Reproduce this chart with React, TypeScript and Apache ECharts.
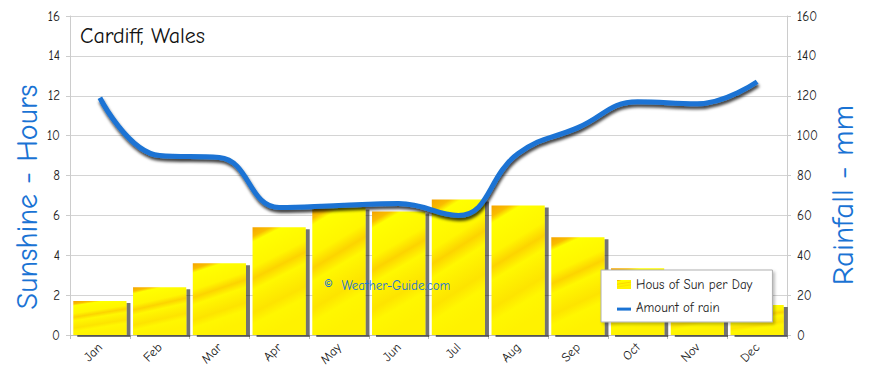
import React, { useEffect, useRef } from "react";
import * as echarts from "echarts";

const months = ["Jan", "Feb", "Mar", "Apr", "May", "Jun", "Jul", "Aug", "Sep", "Oct", "Nov", "Dec"];
const sunHours = [1.7, 2.4, 3.6, 5.4, 6.4, 6.2, 6.8, 6.5, 4.9, 3.35, 2.2, 1.5];
const rainfall = [119, 90, 89, 64, 65, 66, 60, 91, 104, 117, 116, 127];
const sunTicks = { min: 0, max: 16, interval: 2 };
const rainTicks = { min: 0, max: 160, interval: 20 };

const FONT = '"Comic Sans MS", "Comic Neue", Lato, "Open Sans", sans-serif';
const BLUE = "#1a73d4";

export default function App() {
  const ref = useRef<HTMLDivElement>(null);
  useEffect(() => {
    if (!ref.current) return;
    const chart = echarts.init(ref.current, null, { renderer: "svg" });
    const barGrad = new echarts.graphic.LinearGradient(0, 0, 0.25, 1, [
      { offset: 0, color: "#f5a300" },
      { offset: 0.08, color: "#f9bd00" },
      { offset: 0.13, color: "#ffff00" },
      { offset: 0.35, color: "#fff600" },
      { offset: 0.45, color: "#fcd400" },
      { offset: 0.55, color: "#fff800" },
      { offset: 0.75, color: "#fde400" },
      { offset: 0.85, color: "#fff700" },
      { offset: 1, color: "#fff200" },
    ]);
    chart.setOption({
      animation: false,
      backgroundColor: "#ffffff",
      textStyle: { fontFamily: FONT },
      grid: { left: 70, right: 83, top: 16, bottom: 39 },
      legend: {
        orient: "vertical",
        left: 601,
        top: 270,
        padding: [8, 20, 8, 16],
        itemGap: 10,
        itemWidth: 14,
        itemHeight: 9,
        backgroundColor: "#ffffff",
        borderColor: "#b0b0b0",
        borderWidth: 1,
        shadowColor: "rgba(0,0,0,0.25)",
        shadowBlur: 3,
        shadowOffsetX: 2,
        shadowOffsetY: 2,
        textStyle: { fontFamily: FONT, fontSize: 13, color: "#222" },
        data: [
          { name: "Hous of Sun per Day", icon: "rect" },
          { name: "Amount of rain", icon: "path://M0,0L0,0M0,3.2L14,3.2L14,6.2L0,6.2Z" },
        ],
      },
      xAxis: {
        type: "category",
        data: months,
        axisLine: { lineStyle: { color: "#bdbdbd", width: 1 } },
        axisTick: { show: true, length: 4, lineStyle: { color: "#bdbdbd" } },
        axisLabel: { rotate: 45, fontSize: 13, color: "#222", margin: 10, fontFamily: FONT },
      },
      yAxis: [
        {
          type: "value",
          min: sunTicks.min,
          max: sunTicks.max,
          interval: sunTicks.interval,
          axisLine: { show: true, lineStyle: { color: "#cccccc" } },
          axisTick: { show: true, length: 4, lineStyle: { color: "#cccccc" } },
          axisLabel: { fontSize: 13, color: "#222", margin: 10, fontFamily: FONT },
          splitLine: { lineStyle: { color: "#d4d4d4", width: 1 } },
        },
        {
          type: "value",
          min: rainTicks.min,
          max: rainTicks.max,
          interval: rainTicks.interval,
          axisLine: { show: true, lineStyle: { color: "#cccccc" } },
          axisTick: { show: true, length: 4, lineStyle: { color: "#cccccc" } },
          axisLabel: { fontSize: 13, color: "#222", margin: 10, fontFamily: FONT },
          splitLine: { show: false },
        },
      ],
      series: [
        {
          name: "Hous of Sun per Day",
          type: "bar",
          data: sunHours,
          yAxisIndex: 0,
          barCategoryGap: "11%",
          itemStyle: {
            color: barGrad,
            shadowColor: "rgba(0,0,0,0.55)",
            shadowBlur: 1,
            shadowOffsetX: 4,
            shadowOffsetY: 2,
          },
        },
        {
          name: "Amount of rain",
          type: "line",
          data: rainfall,
          yAxisIndex: 1,
          smooth: 0.45,
          symbol: "none",
          z: 5,
          itemStyle: { color: BLUE },
          lineStyle: {
            color: BLUE,
            width: 5,
            shadowColor: "rgba(0,0,0,0.75)",
            shadowBlur: 3,
            shadowOffsetX: 1,
            shadowOffsetY: 3,
          },
        },
      ],
      graphic: [
        {
          type: "text",
          left: 80,
          top: 25,
          style: { text: "Cardiff, Wales", fontSize: 22, fill: "#111", fontFamily: FONT },
          z: 10,
        },
        {
          type: "text",
          x: 324,
          y: 285,
          style: {
            text: "{c|©}  Weather-Guide.com",
            fontSize: 13,
            fill: "#1a73d4",
            fontFamily: FONT,
            textVerticalAlign: "middle",
            rich: { c: { fontSize: 16, fill: "#1a73d4", fontFamily: FONT } },
          },
          z: 10,
        },
        {
          type: "text",
          x: 27,
          y: 197,
          rotation: Math.PI / 2,
          style: {
            text: "Sunshine - Hours",
            fontSize: 30,
            fill: BLUE,
            fontFamily: FONT,
            textAlign: "center",
            textVerticalAlign: "middle",
          },
        },
        {
          type: "text",
          x: 843,
          y: 195,
          rotation: Math.PI / 2,
          style: {
            text: "Rainfall - mm",
            fontSize: 31,
            fill: BLUE,
            fontFamily: FONT,
            textAlign: "center",
            textVerticalAlign: "middle",
          },
        },
      ],
    });
    return () => chart.dispose();
  }, []);
  return (
    <div
      ref={ref}
      style={{ position: "fixed", left: 0, top: 0, width: 870, height: 374, background: "#fff" }}
    />
  );
}
